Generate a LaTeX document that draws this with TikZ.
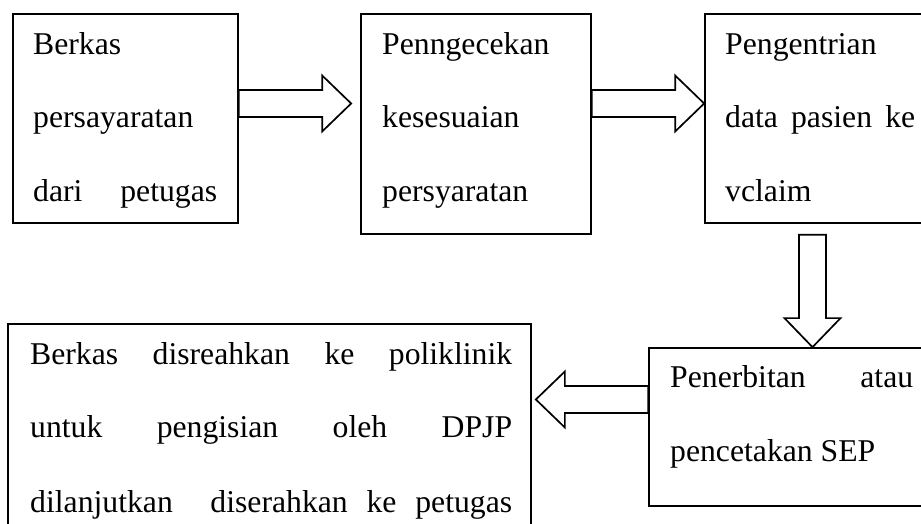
\documentclass[tikz,border=0pt]{standalone}
\usepackage{fontspec}
\setmainfont{Liberation Serif}
\usetikzlibrary{calc}
\newcommand\blkarrow[2]{%
  \path coordinate (hb) at ($(#2)!29pt!(#1)$);
  \draw[blk] ($(#1)!13.5pt!90:(#2)$) -- ($(hb)!13.5pt!90:(#2)$) -- ($(hb)!28pt!90:(#2)$)
    -- (#2) -- ($(hb)!28pt!-90:(#2)$) -- ($(hb)!13.5pt!-90:(#2)$) -- ($(#1)!13.5pt!-90:(#2)$) -- cycle;
}
\begin{document}
\begin{tikzpicture}[x=1pt,y=1pt,
  box/.style={draw, line width=1.7pt, rectangle, inner sep=0pt},
  txt/.style={anchor=base west, inner sep=0pt, font=\fontsize{31.7}{38}\selectfont},
  blk/.style={draw, line width=1.7pt, line join=miter}]
\useasboundingbox (0,0) rectangle (921,524);
\clip (0,0) rectangle (921,524);
% boxes
\node[box, minimum width=225, minimum height=209] (b1) at (125.5,405.5) {};
\node[box, minimum width=230, minimum height=220] (b2) at (476,400) {};
\node[box, minimum width=255, minimum height=209] (b3) at (832.5,405.5) {};
\node[box, minimum width=311, minimum height=158] (b4) at (804.5,97) {};
\node[box, minimum width=523, minimum height=236] (b5) at (269.5,82) {};
% texts
\node[txt] (t1a) at (33,469) {Berkas};
\node[txt] (t1b) at (33,396) {persayaratan};
\node[txt] (t1c) at (33,322) {\makebox[184pt][s]{dari\hfill petugas}};
\node[txt] (t2a) at (382,469) {Penngecekan};
\node[txt] (t2b) at (382,396) {kesesuaian};
\node[txt] (t2c) at (382,322) {persyaratan};
\node[txt] (t3a) at (725,469) {Pengentrian};
\node[txt] (t3b) at (725,396) {\makebox[190pt][s]{data\hfill pasien\hfill ke}};
\node[txt] (t3c) at (725,322) {vclaim};
\node[txt] (t4a) at (670,136) {\makebox[243pt][s]{Penerbitan\hfill atau}};
\node[txt] (t4b) at (670,62) {pencetakan SEP};
\node[txt] (t5a) at (30,159) {\makebox[482pt][s]{Berkas\hfill disreahkan\hfill ke\hfill poliklinik}};
\node[txt] (t5b) at (30,86) {\makebox[482pt][s]{untuk\hfill pengisian\hfill oleh\hfill DPJP}};
\node[txt] (t5c) at (30,11) {\makebox[482pt][s]{dilanjutkan\hfill\hfill diserahkan\hfill ke\hfill petugas}};
% block arrows
\coordinate (a1s) at (b1.east |- 0,420.5);
\coordinate (a1e) at ($(b2.west |- a1s)+(-9,0)$);
\blkarrow{a1s}{a1e}
\coordinate (a2s) at (b2.east |- a1s);
\coordinate (a2e) at (b3.west |- a1s);
\blkarrow{a2s}{a2e}
\coordinate (a3s) at ($(812.5,0 |- b3.south)+(0,-11)$);
\coordinate (a3e) at (812.5,0 |- b4.north);
\blkarrow{a3s}{a3e}
\coordinate (a4s) at (b4.west |- 0,124.5);
\coordinate (a4e) at ($(b5.east |- a4s)+(4,0)$);
\blkarrow{a4s}{a4e}
\end{tikzpicture}
\end{document}
